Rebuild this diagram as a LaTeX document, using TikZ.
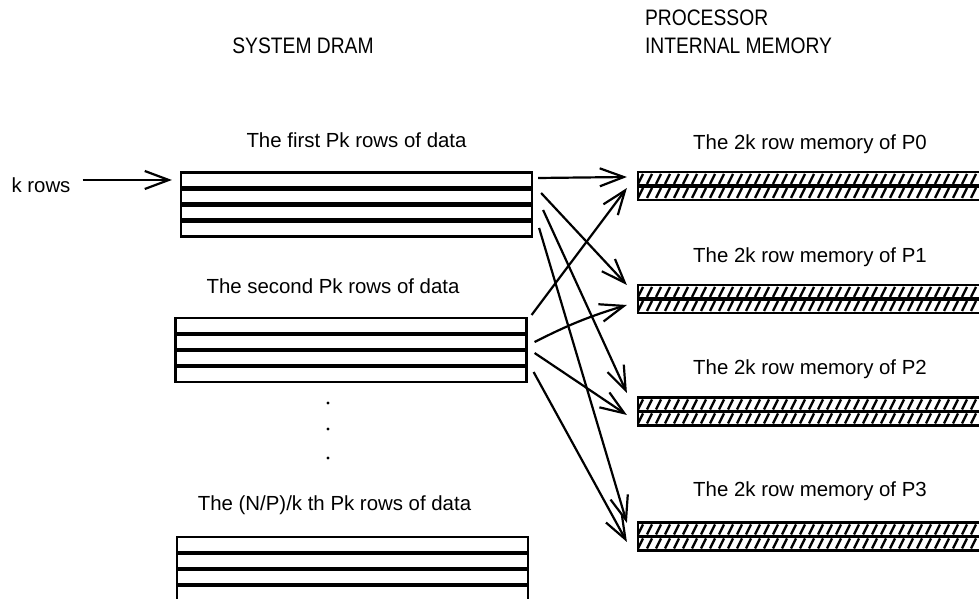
\documentclass[tikz,border=0pt]{standalone}
\usepackage{fontspec}
\setmainfont{Liberation Sans}
\newfontfamily\titlefont[FakeStretch=0.86]{Liberation Sans}
\usetikzlibrary{arrows.meta,positioning,calc}

\begin{document}
\begin{tikzpicture}[
  x=0.5pt, y=0.5pt,
  font=\fontsize{10.2}{12}\selectfont,
  dram/.style={
    draw,
    line width=1.1pt,
    minimum width=175.5pt,
    minimum height=32pt,
    inner sep=0pt,
    path picture={
      \foreach \f in {0.25,0.5,0.75}
        \draw[line width=2.4pt]
          ($(path picture bounding box.north west)!\f!(path picture bounding box.south west)$) --
          ($(path picture bounding box.north east)!\f!(path picture bounding box.south east)$);
    }
  },
  mem/.style={
    draw,
    line width=1.1pt,
    minimum width=175pt,
    minimum height=14pt,
    inner sep=0pt,
    path picture={
      \foreach \i in {-1,...,40} {
        \draw[line width=1.2pt] ([shift={(\i*9,2)}]path picture bounding box.south west) -- ++(5,10);
        \draw[line width=1.2pt] ([shift={(\i*9,16)}]path picture bounding box.south west) -- ++(5,10);
      }
      \draw[line width=1.6pt] ([yshift=7pt]path picture bounding box.south west) -- ++(352,0);
    }
  },
  lbl/.style={text height=7.5pt, text depth=2pt, inner sep=0pt},
  title/.style={font=\titlefont\fontsize{11.2}{14}\selectfont, align=left},
  flow/.style={-{Straight Barb[length=12pt, width=9pt, line width=1.1pt]}, line width=1.1pt}
]
\useasboundingbox (0,0) rectangle (979,599);

% headings
\node[title] (sysdram) at (303,553) {SYSTEM DRAM};
\node[title, anchor=west] (procmem) at (638,567) {PROCESSOR\\INTERNAL MEMORY};

% system dram blocks
\node[dram] (dram1) at (356.5,394.5) {};
\node[lbl, above=9.5pt of dram1] (dramlbl1) {The first Pk rows of data};

\node[dram] (dram2) at (351,249) {};
\node[lbl, above=9.5pt of dram2, xshift=-9pt] (dramlbl2) {The second Pk rows of data};

\foreach \y in {196,170,141}
  \fill (328,\y) circle (1.6);

\node[dram] (dram3) at (352.5,30) {};
\node[lbl, above=10.5pt of dram3, xshift=-9pt] (dramlbl3) {The (N/P)/k th Pk rows of data};

\node (krows) at (41,414) {k rows};
\draw[flow] ([shift={(5,5)}]krows.east) -- ([shift={(-8,24.5)}]dram1.west);

% processor memories
\foreach \p/\y/\gap in {0/413/8.5, 1/300/8.5, 2/187.5/8.5, 3/62.5/10} {
  \node[mem] (mem\p) at (813,\y) {};
  \node[lbl, above=\gap pt of mem\p, xshift=-1.5pt] (memlbl\p) {The 2k row memory of P\p};
}

% transfers
\draw[flow] ([shift={(5,26.5)}]dram1.east) -- ([shift={(-10,9)}]mem0.west);
\draw[flow] ([shift={(8,11.5)}]dram1.east) -- ([shift={(-10,14)}]mem1.west);
\draw[flow] ([shift={(10,-5.5)}]dram1.east) -- ([shift={(-10,18.5)}]mem2.west);
\draw[flow] ([shift={(6,-23.5)}]dram1.east) -- ([shift={(-10,13.5)}]mem3.west);

\draw[flow] ([shift={(4,35)}]dram2.east) -- ([shift={(-10,-2)}]mem0.west);
\draw[flow] ([shift={(7,8)}]dram2.east) to[bend left=5] ([shift={(-10,-6)}]mem1.west);
\draw[flow] ([shift={(7,-3)}]dram2.east) -- ([shift={(-10,-3.5)}]mem2.west);
\draw[flow] ([shift={(6,-22)}]dram2.east) -- ([shift={(-10,-5.5)}]mem3.west);

\end{tikzpicture}
\end{document}
